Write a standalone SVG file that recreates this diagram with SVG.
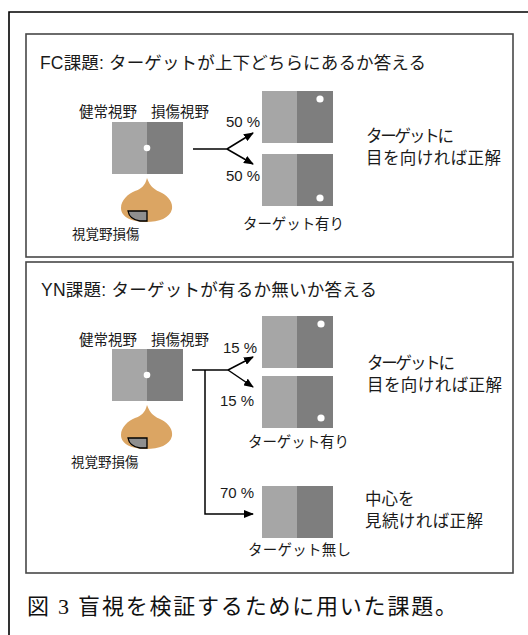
<svg xmlns="http://www.w3.org/2000/svg" width="528" height="635" viewBox="0 0 528 635">
  <style>
    .t { font-family: "Liberation Sans", "Noto Sans CJK JP", sans-serif; fill: #1a1a1a; }
    .title { font-size: 17.5px; }
    .lbl { font-size: 14.5px; }
    .pct { font-size: 15px; }
    .note { font-size: 16.5px; }
    .small { font-size: 13.5px; }
    .cap { font-family: "Liberation Serif", "Noto Sans CJK JP", serif; font-size: 22px; fill: #111; }
    .panel { fill: none; stroke: #484848; stroke-width: 1.6; }
    .light { fill: #a6a6a6; }
    .dark { fill: #7e7e7e; }
    .dot { fill: #ffffff; }
    .blob { fill: #dba563; }
    .lesion { fill: #8f8f8f; stroke: #000; stroke-width: 1.3; }
    .wire { fill: none; stroke: #000; stroke-width: 1.5; }
  </style>
  <defs>
    <marker id="arrow" markerWidth="10" markerHeight="8" refX="9" refY="4" orient="auto" markerUnits="userSpaceOnUse">
      <path d="M0,0 L10,4 L0,8 Z" fill="#000"/>
    </marker>
    <!-- split field square: healthy half (left) and damaged half (right), 71 x 52 -->
    <g id="field">
      <rect class="light" x="0" y="0" width="35" height="52"/>
      <rect class="dark" x="35" y="0" width="36" height="52"/>
    </g>
    <!-- brain with lesion in the visual cortex -->
    <g id="brain">
      <path class="blob" d="M147,178 C150,187 155,190 162,193 C169,197 173,203 172,209 C170,218 159,222 146,222 C132,222 121,217 121,208 C121,200 128,194 135,191 C141,189 145,186 147,178 Z"/>
      <path class="lesion" d="M128,211 H147 V221 H140 C133,220 129,217 128,211 Z"/>
    </g>
  </defs>

  <!-- outer frame -->
  <path d="M9,640 V12 H535" fill="none" stroke="#000" stroke-width="1.6"/>

  <!-- FC task panel -->
  <g id="fc-panel">
    <rect class="panel" x="26" y="34" width="487" height="223"/>
    <text class="t title" x="40" y="69" textLength="386" lengthAdjust="spacing">FC課題: ターゲットが上下どちらにあるか答える</text>
  </g>
  <g id="fc-fixation">
    <text class="t lbl" x="79" y="117">健常視野</text>
    <text class="t lbl" x="151" y="117">損傷視野</text>
    <use href="#field" x="112" y="122"/>
    <circle class="dot" cx="147" cy="148" r="3.3"/>
  </g>
  <g id="fc-brain">
    <use href="#brain"/>
    <text class="t small" x="72" y="239">視覚野損傷</text>
  </g>
  <g id="fc-target-up">
    <use href="#field" x="262" y="91"/>
    <circle class="dot" cx="320" cy="99" r="3.6"/>
    <text class="t pct" x="226" y="127">50 %</text>
  </g>
  <g id="fc-target-down">
    <use href="#field" x="262" y="154"/>
    <circle class="dot" cx="320" cy="198" r="3.6"/>
    <text class="t pct" x="226" y="181">50 %</text>
    <text class="t lbl" x="243" y="229" textLength="101" lengthAdjust="spacing">ターゲット有り</text>
  </g>
  <g id="fc-rule">
    <text class="t note" x="366" y="142" textLength="88" lengthAdjust="spacing">ターゲットに</text>
    <text class="t note" x="366" y="164" textLength="135" lengthAdjust="spacing">目を向ければ正解</text>
  </g>

  <!-- YN task panel -->
  <g id="yn-panel">
    <rect class="panel" x="26" y="262" width="487" height="311"/>
    <text class="t title" x="41" y="296" textLength="336" lengthAdjust="spacing">YN課題: ターゲットが有るか無いか答える</text>
  </g>
  <g id="yn-fixation">
    <text class="t lbl" x="79" y="345">健常視野</text>
    <text class="t lbl" x="151" y="345">損傷視野</text>
    <use href="#field" x="112" y="349"/>
    <circle class="dot" cx="147" cy="375" r="3.3"/>
  </g>
  <g id="yn-brain">
    <use href="#brain" y="227"/>
    <text class="t small" x="71" y="467">視覚野損傷</text>
  </g>
  <g id="yn-target-up">
    <use href="#field" x="262" y="316"/>
    <circle class="dot" cx="321" cy="324" r="3.6"/>
    <text class="t pct" x="223" y="353">15 %</text>
  </g>
  <g id="yn-target-down">
    <use href="#field" x="262" y="376"/>
    <circle class="dot" cx="321" cy="418" r="3.6"/>
    <text class="t pct" x="220" y="406">15 %</text>
    <text class="t lbl" x="248" y="447" textLength="101" lengthAdjust="spacing">ターゲット有り</text>
  </g>
  <g id="yn-rule-present">
    <text class="t note" x="367" y="369" textLength="88" lengthAdjust="spacing">ターゲットに</text>
    <text class="t note" x="367" y="391" textLength="135" lengthAdjust="spacing">目を向ければ正解</text>
  </g>
  <g id="yn-absent">
    <use href="#field" x="262" y="486"/>
    <text class="t pct" x="220" y="498">70 %</text>
    <text class="t lbl" x="248" y="555" textLength="103" lengthAdjust="spacing">ターゲット無し</text>
  </g>
  <g id="yn-rule-absent">
    <text class="t note" x="365" y="505">中心を</text>
    <text class="t note" x="365" y="527" textLength="118" lengthAdjust="spacing">見続ければ正解</text>
  </g>

  <!-- connectors -->
  <g id="connectors">
    <path class="wire" d="M193,149 H227"/>
    <path class="wire" d="M227,149 L253,133" marker-end="url(#arrow)"/>
    <path class="wire" d="M227,149 L253,164" marker-end="url(#arrow)"/>
    <path class="wire" d="M192,370 H228"/>
    <path class="wire" d="M228,370 L253,357" marker-end="url(#arrow)"/>
    <path class="wire" d="M228,370 L253,387" marker-end="url(#arrow)"/>
    <path class="wire" d="M205,370 V514 H253" marker-end="url(#arrow)"/>
  </g>

  <!-- caption -->
  <text class="cap" x="27" y="614" textLength="430" lengthAdjust="spacing">図 3 盲視を検証するために用いた課題。</text>
</svg>
